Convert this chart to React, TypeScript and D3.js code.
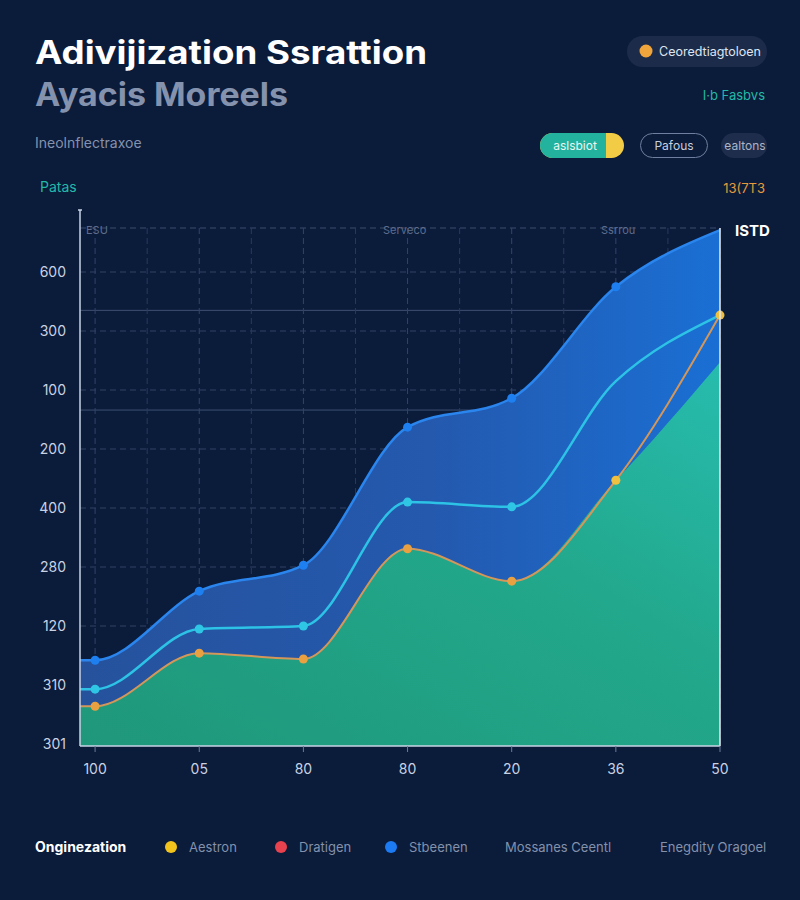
import React from 'react';
import * as d3 from 'd3';

// categories along the x axis and the tick strings printed on both axes
const xLabels = ['100', '05', '80', '80', '20', '36', '50'];
const yTickValues = [0, 100, 200, 300, 400, 500, 600, 700, 800];
const yTickLabels = ['301', '310', '120', '280', '400', '200', '100', '300', '600'];
const solidGridValues = [566, 735];

// series values
const blueTop = [142, 259, 303, 537, 586, 775, 871];
const cyanMid = [93, 195, 200, 410, 402, 615, 727];
const orangeLine = [64, 154, 144, 331, 276, 447, 727];
const greenBase = [64, 154, 144, 331, 276, 447, 647];

const legendItems = [
  { name: 'Aestron', color: '#f2c31c' },
  { name: 'Dratigen', color: '#e8424f' },
  { name: 'Stbeenen', color: '#1c7bf2' },
  { name: 'Mossanes Ceentl', color: null },
  { name: 'Enegdity Oragoel', color: null },
];
const legendX = [171, 281, 391, 505, 660];

const W = 800;
const H = 900;
const margin = { top: 228, right: 80, bottom: 154, left: 80 };
const FONT = 'Inter, "Open Sans", sans-serif';

type Pt = { i: number; v: number };

export default function App() {
  const x = d3.scaleLinear()
    .domain([-0.145, 6])
    .range([margin.left, W - margin.right]);
  const y = d3.scaleLinear()
    .domain([0, 800])
    .range([744, 272]);

  const idx = xLabels.map((_, i) => i);
  // first point is carried left to the y axis so the fills meet it
  const ext = (vals: number[]): Pt[] => [{ i: x.domain()[0], v: vals[0] }, ...vals.map((v, i) => ({ i, v }))];

  const area = d3.area<Pt>()
    .x(d => x(d.i))
    .y0(y(0) + 2)
    .y1(d => y(d.v))
    .curve(d3.curveMonotoneX);
  const line = d3.line<Pt>()
    .x(d => x(d.i))
    .y(d => y(d.v))
    .curve(d3.curveMonotoneX);

  const minorX = d3.range(-0.5, 6, 1).filter(v => v > x.domain()[0]);
  const [x0, x1] = x.range();

  return (
    <div style={{ position: 'absolute', left: 0, top: 0 }}>
      <svg width={W} height={H} style={{ display: 'block', fontFamily: FONT }}>
        <defs>
          <linearGradient id="blueFill" x1="0" y1="0" x2="1" y2="0">
            <stop offset="0%" stopColor="#26529c" />
            <stop offset="55%" stopColor="#2459ae" />
            <stop offset="100%" stopColor="#1a6fd4" />
          </linearGradient>
          <linearGradient id="greenFill" x1="0" y1="1" x2="1" y2="0">
            <stop offset="0%" stopColor="#1f977a" />
            <stop offset="60%" stopColor="#22a88c" />
            <stop offset="100%" stopColor="#27bcae" />
          </linearGradient>
        </defs>
        <rect width={W} height={H} fill="#0b1b3a" />

        {/* header */}
        <text x={35} y={64} fill="#ffffff" fontSize={32} fontWeight={700} textLength={392} lengthAdjust="spacingAndGlyphs">Adivijization Ssrattion</text>
        <text x={35} y={106} fill="#8592ad" fontSize={32} fontWeight={700} textLength={253} lengthAdjust="spacingAndGlyphs">Ayacis Moreels</text>
        <text x={35} y={148} fill="#8592ad" fontSize={14}>Ineolnflectraxoe</text>

        <rect x={627} y={36} width={140} height={31} rx={15.5} fill="#1c2b4a" />
        <circle cx={646} cy={51} r={6.5} fill="#f0a43c" />
        <text x={659} y={56} fill="#dfe5f0" fontSize={12.5}>Ceoredtiagtoloen</text>
        <text x={765} y={100} fill="#22b9a8" fontSize={13} textAnchor="end">I·b Fasbvs</text>

        <rect x={540} y={133} width={84} height={25} rx={12.5} fill="#f2cc45" />
        <path d="M552.5,133 H606 V158 H552.5 A12.5,12.5 0 0 1 552.5,133 Z" fill="#22b29e" />
        <text x={575} y={150} fill="#e8f6f2" fontSize={12} textAnchor="middle">aslsbiot</text>
        <rect x={640.5} y={133.5} width={67} height={24} rx={12} fill="none" stroke="#6f7f9f" strokeWidth={1} />
        <text x={674} y={150} fill="#c6cfdf" fontSize={12} textAnchor="middle">Pafous</text>
        <rect x={721} y={133} width={46} height={25} rx={12.5} fill="#1f2d4c" />
        <text x={745} y={150} fill="#aab5c8" fontSize={12} textAnchor="middle">ealtons</text>

        <text x={40} y={192} fill="#22b9a8" fontSize={14}>Patas</text>
        <text x={765} y={193} fill="#e79a3c" fontSize={13} textAnchor="end">13(7T3</text>

        {/* grid */}
        {yTickValues.map(v => (
          <line key={'gy' + v} x1={x0} x2={x1} y1={y(v)} y2={y(v)}
            stroke="#3b4c6e" strokeWidth={1} strokeDasharray="6 4" opacity={0.8} />
        ))}
        <line x1={x0} x2={x1} y1={margin.top} y2={margin.top} stroke="#3b4c6e" strokeDasharray="6 4" />
        {solidGridValues.map(v => (
          <line key={'sg' + v} x1={x0} x2={x1} y1={y(v)} y2={y(v)} stroke="#3f5072" strokeWidth={1} />
        ))}
        {idx.map(i => (
          <line key={'gx' + i} x1={x(i)} x2={x(i)} y1={margin.top} y2={y(0)}
            stroke="#33446a" strokeDasharray="6 4" />
        ))}
        {minorX.map(v => (
          <line key={'mx' + v} x1={x(v)} x2={x(v)} y1={margin.top} y2={y(0)}
            stroke="#2a3a5e" strokeDasharray="6 4" />
        ))}
        <text x={86} y={234} fill="#5d6d8d" fontSize={11}>ESU</text>
        <text x={383} y={234} fill="#5d6d8d" fontSize={11}>Servеco</text>
        <text x={601} y={234} fill="#5d6d8d" fontSize={11}>Ssrrou</text>

        {/* series */}
        <path d={area(ext(blueTop)) ?? ''} fill="url(#blueFill)" />
        <path d={area(ext(greenBase)) ?? ''} fill="url(#greenFill)" />
        <path d={line(ext(blueTop)) ?? ''} fill="none" stroke="#2a86ee" strokeWidth={2.5} />
        <path d={line(ext(cyanMid)) ?? ''} fill="none" stroke="#2cc3e6" strokeWidth={2.5} />
        <path d={line(ext(orangeLine)) ?? ''} fill="none" stroke="#d4975a" strokeWidth={2} />

        {blueTop.slice(0, 6).map((v, i) => (
          <circle key={'bd' + i} cx={x(i)} cy={y(v)} r={4.5} fill="#1d7ff0" />
        ))}
        {cyanMid.slice(0, 5).map((v, i) => (
          <circle key={'cd' + i} cx={x(i)} cy={y(v)} r={4.5} fill="#2ec6e4" />
        ))}
        {orangeLine.map((v, i) => (
          <circle key={'od' + i} cx={x(i)} cy={y(v)} r={4.5} fill={i >= 5 ? '#f0c040' : '#e8a040'} />
        ))}

        {/* axes */}
        <line x1={x0} x2={x0} y1={210} y2={746} stroke="#c9d3e6" strokeWidth={1.5} />
        <line x1={x0 - 2} x2={x0 + 2} y1={210} y2={210} stroke="#c9d3e6" strokeWidth={1.5} />
        <line x1={x1} x2={x1} y1={margin.top} y2={746} stroke="#e6ecf6" strokeWidth={1.5} />
        <line x1={x0} x2={x1} y1={746} y2={746} stroke="#c9d3e6" strokeWidth={1.5} />
        <text x={735} y={236} fill="#ffffff" fontSize={15} fontWeight={700}>ISTD</text>

        {yTickValues.map((v, k) => (
          <text key={'yl' + v} x={66} y={y(v) + 5} fill="#c9d2e2" fontSize={14} textAnchor="end">{yTickLabels[k]}</text>
        ))}
        {idx.map(i => (
          <g key={'xl' + i}>
            <line x1={x(i)} x2={x(i)} y1={746} y2={752} stroke="#6b7a98" />
            <text x={x(i)} y={774} fill="#c9d2e2" fontSize={14} textAnchor="middle">{xLabels[i]}</text>
          </g>
        ))}

        {/* legend */}
        <text x={35} y={852} fill="#ffffff" fontSize={14} fontWeight={700}>Onginezation</text>
        {legendItems.map((d, k) => {
          const lx = legendX[k];
          return (
            <g key={d.name}>
              {d.color && <circle cx={lx} cy={847} r={6} fill={d.color} />}
              <text x={d.color ? lx + 18 : lx} y={852} fill="#8391ab" fontSize={13}>{d.name}</text>
            </g>
          );
        })}
      </svg>
    </div>
  );
}
